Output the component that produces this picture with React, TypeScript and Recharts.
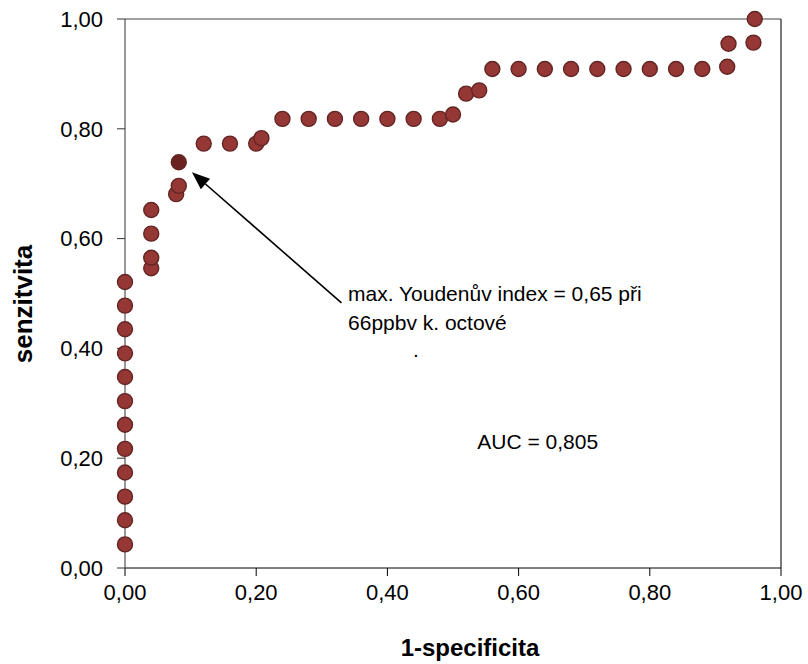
import { ScatterChart, Scatter, XAxis, YAxis, ReferenceLine, ReferenceDot, Label } from 'recharts';

const fpr = [0, 0, 0, 0, 0, 0, 0, 0, 0, 0, 0, 0,
  0.04, 0.04, 0.04, 0.04, 0.078, 0.082,
  0.12, 0.16, 0.2, 0.208,
  0.24, 0.28, 0.32, 0.36, 0.4, 0.44, 0.48, 0.5, 0.52, 0.54,
  0.56, 0.6, 0.64, 0.68, 0.72, 0.76, 0.8, 0.84, 0.88,
  0.918, 0.92, 0.958, 0.96];
const sens = [0.043, 0.087, 0.13, 0.174, 0.217, 0.261, 0.304, 0.348, 0.391, 0.435, 0.478, 0.521,
  0.546, 0.565, 0.609, 0.652, 0.681, 0.696,
  0.773, 0.773, 0.773, 0.783,
  0.818, 0.818, 0.818, 0.818, 0.818, 0.818, 0.818, 0.826, 0.864, 0.87,
  0.909, 0.909, 0.909, 0.909, 0.909, 0.909, 0.909, 0.909, 0.909,
  0.913, 0.955, 0.957, 1.0];
const best = [{ x: 0.082, y: 0.739 }];
const ticks = [0, 0.2, 0.4, 0.6, 0.8, 1];
const noteLines = ['max. Youdenův index = 0,65 při', '66ppbv k. octové'];
const aucText = 'AUC = 0,805';

const points = fpr.map((x, i) => ({ x, y: sens[i] }));
const fmt = (v: number) => v.toFixed(2).replace('.', ',');
const font = 'Liberation Sans, Arial, sans-serif';

const Dot = (fill: string) => (p: any) => (
  <circle cx={p.cx} cy={p.cy} r={7.5} fill={fill} stroke="#632523" strokeWidth={1.4} />
);

const Arrow = (p: any) => {
  const { x1, y1, x2, y2 } = p;
  const ang = Math.atan2(y2 - y1, x2 - x1);
  const len = 18, w = 7;
  const bx = x2 - len * Math.cos(ang), by = y2 - len * Math.sin(ang);
  const nx = -Math.sin(ang) * w, ny = Math.cos(ang) * w;
  return (
    <g>
      <line x1={x1} y1={y1} x2={bx} y2={by} stroke="#000" strokeWidth={1.6} />
      <polygon points={`${x2},${y2} ${bx + nx},${by + ny} ${bx - nx},${by - ny}`} fill="#000" />
    </g>
  );
};

const TextAt = (lines: string[]) => (p: any) => (
  <text x={p.cx} y={p.cy} fontFamily={font} fontSize={21} fill="#000">
    {lines.map((l, i) => (
      <tspan key={i} x={p.cx} dy={i === 0 ? 0 : 29}>{l}</tspan>
    ))}
  </text>
);

const YTitle = () => (
  <text transform="translate(32,304) rotate(-90)" textAnchor="middle"
    fontFamily={font} fontSize={26} fontWeight="bold" fill="#000">senzitvita</text>
);

export default function App() {
  return (
    <div style={{ position: 'absolute', left: 0, top: 0, background: '#fff' }}>
      <ScatterChart width={808} height={664} margin={{ top: 19, right: 27, bottom: 0, left: 0 }}>
        <XAxis type="number" dataKey="x" domain={[0, 1]} ticks={ticks} tickFormatter={fmt}
          height={96} stroke="#000" tickSize={8} tickMargin={8}
          tick={{ fill: '#000', fontSize: 22, fontFamily: font }}>
          <Label value="1-specificita" position="insideBottom" offset={8} dx={17}
            style={{ fontSize: 24, fontWeight: 'bold', fontFamily: font, fill: '#000' }} />
        </XAxis>
        <YAxis type="number" dataKey="y" domain={[0, 1]} ticks={ticks} tickFormatter={fmt}
          width={125} stroke="#333" tickSize={8} tickMargin={14}
          tick={{ fill: '#000', fontSize: 22, fontFamily: font }}>
          <Label content={YTitle} />
        </YAxis>
        <ReferenceLine y={1} stroke="#808080" strokeWidth={1.5} />
        <ReferenceLine x={1} stroke="#222" strokeWidth={1.2} />
        <Scatter data={points} shape={Dot('#953735')} isAnimationActive={false} />
        <Scatter data={best} shape={Dot('#6b2321')} isAnimationActive={false} />
        <ReferenceLine segment={[{ x: 0.33, y: 0.483 }, { x: 0.102, y: 0.721 }]} shape={Arrow} />
        <ReferenceDot x={0.34} y={0.487} r={0} shape={TextAt(noteLines)} />
        <ReferenceDot x={0.439} y={0.384} r={0} shape={TextAt(['.'])} />
        <ReferenceDot x={0.537} y={0.217} r={0} shape={TextAt([aucText])} />
      </ScatterChart>
    </div>
  );
}
